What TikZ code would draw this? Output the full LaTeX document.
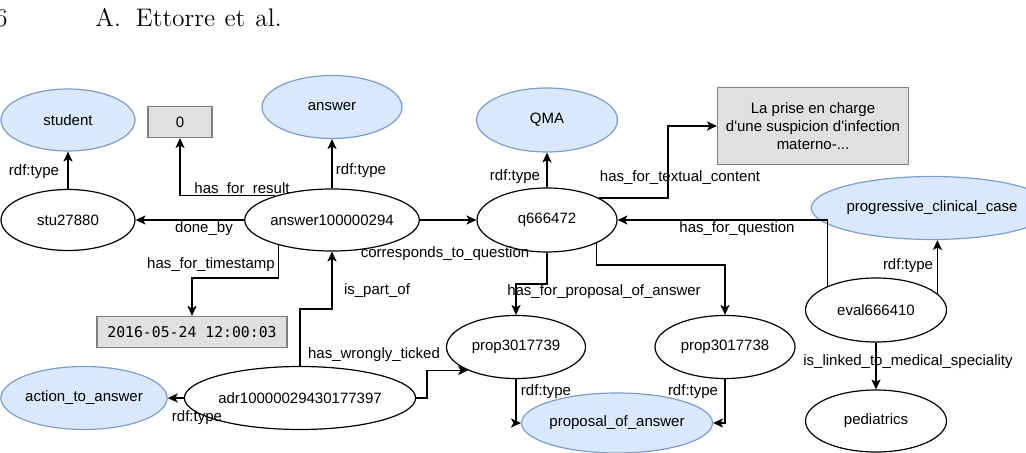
\documentclass[tikz,border=0pt]{standalone}
\usepackage{fontspec}
\newfontfamily\lblfont{Liberation Sans}
\newfontfamily\tsfont{DejaVu Sans Mono}
\usetikzlibrary{shapes.geometric,arrows.meta}
\definecolor{clsfill}{HTML}{DAE8FC}
\definecolor{clsdraw}{HTML}{7C9CCB}
\definecolor{litfill}{HTML}{E0E0E0}
\definecolor{litdraw}{HTML}{808080}
\tikzset{
  inst/.style={ellipse, draw=black, line width=0.6pt, inner sep=0pt, font=\lblfont\fontsize{7.5}{9}\selectfont},
  cls/.style={inst, draw=clsdraw, fill=clsfill},
  lit/.style={rectangle, draw=litdraw, fill=litfill, line width=0.6pt, inner sep=0pt, font=\lblfont\fontsize{7.5}{9}\selectfont},
  lbl/.style={inner sep=0pt, font=\lblfont\fontsize{7.5}{9}\selectfont},
  arr/.style={line width=0.6pt, -{Stealth[length=5pt,width=4.6pt,inset=1.3pt]}},
}
\begin{document}
\begin{tikzpicture}[x=0.5pt,y=-0.5pt]
\useasboundingbox (0,0) rectangle (1026,453);
% header
\node[anchor=base east, inner sep=0pt, font=\fontsize{12.7}{15}\selectfont] (pg) at (8,27) {6};
\node[anchor=base west, inner sep=0pt, font=\fontsize{12.7}{15}\selectfont] (title) at (95,27) {A.\hspace{7.5pt}Ettorre\hspace{4.8pt}et\hspace{5pt}al.};
% nodes
\node[cls, minimum width=67pt, minimum height=31pt] (student) at (68,120) {student};
\node[lit, minimum width=32pt, minimum height=15.5pt] (zero) at (180,122) {0};
\node[cls, minimum width=70pt, minimum height=31.5pt] (answer) at (332,107) {answer};
\node[cls, minimum width=70.5pt, minimum height=32pt] (qma) at (547,120) {QMA};
\node[lit, minimum width=95.5pt, minimum height=38.5pt, align=center] (text) at (813,126) {La prise en charge\\d'une suspicion d'infection\\materno-...};
\node[cls, minimum width=93pt, minimum height=31.5pt] (pcc) at (932,208) {progressive\_clinical\_case};
\node[inst, minimum width=67pt, minimum height=30.5pt] (stu) at (68,220) {stu27880};
\node[inst, minimum width=69.5pt, minimum height=31pt] (ans) at (332,220) {answer100000294};
\node[inst, minimum width=70pt, minimum height=32pt] (q) at (547,220) {q666472};
\node[inst, minimum width=70.5pt, minimum height=32pt] (eval) at (876,310) {eval666410};
\node[inst, minimum width=69.5pt, minimum height=31.5pt] (p39) at (516,347) {prop3017739};
\node[inst, minimum width=70pt, minimum height=31.5pt] (p38) at (725,347) {prop3017738};
\node[inst, minimum width=70.5pt, minimum height=31pt] (ped) at (876,421) {pediatrics};
\node[cls, minimum width=76.5pt, minimum height=30pt] (poa) at (617,423) {proposal\_of\_answer};
\node[inst, minimum width=102pt, minimum height=31.5pt] (adr) at (300,398) {adr10000029430177397};
\node[cls, minimum width=77.5pt, minimum height=31.5pt] (ata) at (84,398) {action\_to\_answer};
\node[lit, minimum width=95pt, minimum height=15.5pt, font=\tsfont\fontsize{7.4}{9}\selectfont] (ts) at (192,332) {2016-05-24 12:00:03};
% connectors
\draw[arr] (stu.north) -- (student.south) node[lbl] at (34,172) {rdf:type};
\draw[arr] (ans.157) -| (zero.south) node[lbl] at (242,190) {has\_for\_result};
\draw[arr] (ans.north) -- (answer.south) node[lbl] at (361,171) {rdf:type};
\draw[arr] (ans.west) -- (stu.east) node[lbl] at (204,229) {done\_by};
\draw[arr] (ans.east) -- (q.west) node[lbl] at (445,254) {corresponds\_to\_question};
\draw[arr] (ans.205) |- (ts.north |- 0,278) -- (ts.north) node[lbl] at (211,265) {has\_for\_timestamp};
\draw[arr] (adr.north) |- (ans.south |- 0,309) -- (ans.south) node[lbl] at (377,291) {is\_part\_of};
\draw[arr] (adr.west) -- (ata.east) node[lbl] at (197,418) {rdf:type};
\draw[arr] (adr.east) -- (427,0 |- adr.east) |- (p39.206) node[lbl] at (374,355) {has\_wrongly\_ticked};
\draw[arr] (q.north) -- (qma.south) node[lbl] at (515,177) {rdf:type};
\draw[arr] (q.23) -| (668,0 |- text.west) -- (text.west) node[lbl] at (680,178) {has\_for\_textual\_content};
\draw[arr] (eval.154) |- (q.east) node[lbl] at (737,229) {has\_for\_question};
\draw[arr] (q.south) |- (p39.north |- 0,284) -- (p39.north) node[lbl] at (604,292) {has\_for\_proposal\_of\_answer};
\draw[arr] (q.335) |- (p38.north |- 0,265) -- (p38.north);
\draw[arr] (eval.15) -- (eval.15 |- pcc.south) node[lbl] at (908,266) {rdf:type};
\draw[arr] (eval.south) -- (ped.north) node[lbl] at (908,362) {is\_linked\_to\_medical\_speciality};
\draw[arr] (p39.south) |- (poa.west) node[lbl] at (546,392) {rdf:type};
\draw[arr] (p38.south) |- (poa.east) node[lbl] at (693,392) {rdf:type};
\end{tikzpicture}
\end{document}
